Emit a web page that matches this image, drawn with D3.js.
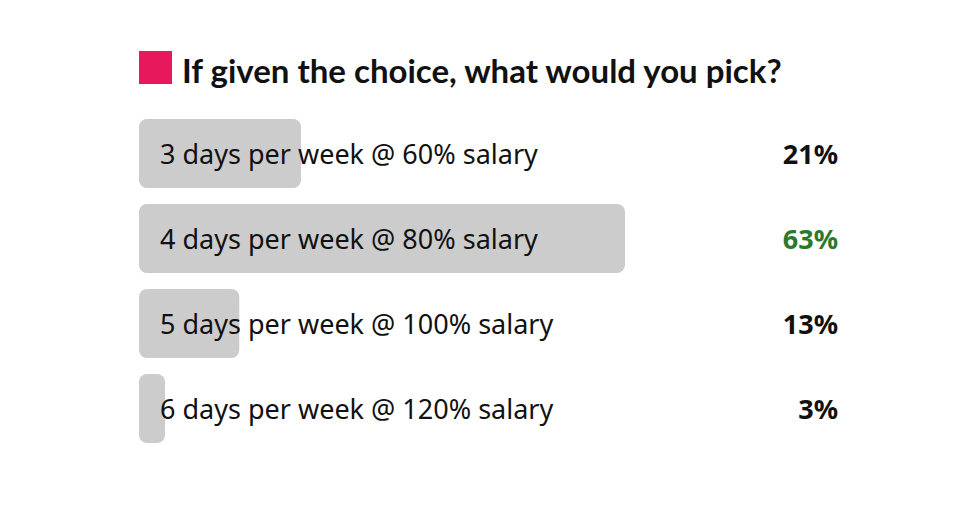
<!DOCTYPE html>
<html lang="en">
<head>
    <meta charset="UTF-8">
    <title>If given the choice</title>
    <style>
        body { margin: 0; background: #fff; }
        svg { display: block; font-family: "Noto Sans", "Open Sans", sans-serif; }
    </style>
</head>
<body>
    <div id="chart"></div>

    <script src="https://d3js.org/d3.v7.min.js"></script>
    <script>
        const title = "If given the choice, what would you pick?";
        const options = [
            "3 days per week @ 60% salary",
            "4 days per week @ 80% salary",
            "5 days per week @ 100% salary",
            "6 days per week @ 120% salary"
        ];
        const shares = [21, 63, 13, 3];
        const winner = 1;

        const width = 960;
        const height = 505;
        const margin = { left: 139, top: 119, bottom: 443 };

        const svg = d3.select("#chart").append("svg")
            .attr("width", width)
            .attr("height", height);

        // title with the pink square
        svg.append("rect")
            .attr("x", 139).attr("y", 51)
            .attr("width", 33).attr("height", 33)
            .attr("fill", "#e8185c");

        svg.append("text")
            .attr("x", 182).attr("y", 83)
            .style("font-family", "Lato, sans-serif")
            .style("font-size", "33px")
            .style("font-weight", "bold")
            .attr("fill", "#111")
            .text(title);

        const x = d3.scaleLinear()
            .domain([0, d3.max(shares)])
            .range([0, 486]);

        const y = d3.scaleBand()
            .domain(options)
            .range([margin.top, margin.bottom])
            .paddingInner(16 / 85)
            .paddingOuter(0);

        const rows = svg.selectAll(".row")
            .data(options)
            .enter()
            .append("g")
            .attr("class", "row");

        rows.append("rect")
            .attr("x", margin.left)
            .attr("y", d => y(d))
            .attr("width", (d, i) => Math.max(x(shares[i]), 26))
            .attr("height", y.bandwidth())
            .attr("rx", 8)
            .attr("fill", "#cccccc");

        rows.append("text")
            .attr("x", 160)
            .attr("y", d => y(d) + y.bandwidth() / 2 + 10)
            .style("font-size", "27px")
            .attr("fill", "#111")
            .text(d => d);

        rows.append("text")
            .attr("x", 838)
            .attr("y", d => y(d) + y.bandwidth() / 2 + 10)
            .attr("text-anchor", "end")
            .style("font-size", "27px")
            .style("font-weight", "bold")
            .attr("fill", (d, i) => i === winner ? "#2b7a2b" : "#111")
            .text((d, i) => shares[i] + "%");
    </script>
</body>
</html>
